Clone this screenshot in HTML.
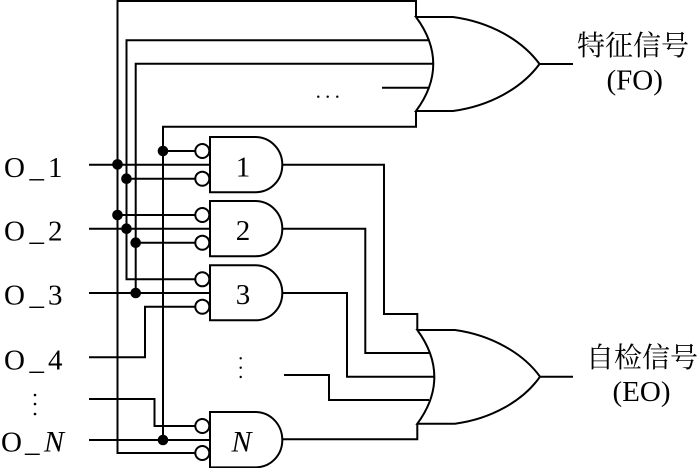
<!DOCTYPE html>
<html><head><meta charset="utf-8"><style>
html,body{margin:0;padding:0;background:#fff}
svg{display:block}
text{font-family:"Liberation Serif","Noto Serif CJK SC",serif;fill:#000}
</style></head><body>
<svg width="700" height="468" viewBox="0 0 700 468" xmlns="http://www.w3.org/2000/svg">
<g fill="none" stroke="#000" stroke-width="2">
<!-- input wires -->
<path d="M89 164.7H210M89 228.7H210M89 293H210M89 440H210"/>
<path d="M89 357.3H145V306.7H195"/>
<path d="M89 399H154.5V426H195"/>
<path d="M117.5 215H195M126.5 178.7H195M135.7 242.7H195M163 151H195"/>
<!-- buses -->
<path d="M195 453H117.5V1H416V17"/>
<path d="M195 279.3H126.5V40.3H428"/>
<path d="M135.7 293V63.7H433"/>
<path d="M163 440V126.7H416V111"/>
<path d="M382 87.7H428"/>
<!-- top OR -->
<path d="M416 17H453C490 22 522 40 539.5 64C522 88 490 106 453 111H416C439 80 439 48 416 17Z"/>
<path d="M539.5 64H573"/>
<!-- AND gates -->
<path d="M210 137H255C271 137 282.3 150 282.3 164.7C282.3 180 271 192.3 255 192.3H210Z" fill="#fff"/>
<path d="M210 201H255C271 201 282.3 214 282.3 228.7C282.3 244 271 256.3 255 256.3H210Z" fill="#fff"/>
<path d="M210 265.3H255C271 265.3 282.3 278 282.3 293C282.3 308 271 320.3 255 320.3H210Z" fill="#fff"/>
<path d="M210 412H255C271 412 282.3 425 282.3 440C282.3 455 271 467.4 255 467.4H210Z" fill="#fff"/>
<!-- bubbles -->
<g fill="#fff">
<circle cx="202.3" cy="151" r="7"/><circle cx="202.3" cy="178.7" r="7"/>
<circle cx="202.3" cy="215" r="7"/><circle cx="202.3" cy="242.7" r="7"/>
<circle cx="202.3" cy="279.3" r="7"/><circle cx="202.3" cy="306.7" r="7"/>
<circle cx="202.3" cy="426" r="7"/><circle cx="202.3" cy="453" r="7"/>
</g>
<!-- outputs -->
<path d="M282 164.7H384V314H417.3V330"/>
<path d="M282 228.7H365.3V353H429"/>
<path d="M282 293H347V376.7H434"/>
<path d="M284 375H329V400H429"/>
<path d="M282 439.3H417.3V423.7"/>
<!-- bottom OR -->
<path d="M417.3 330H455C491 335 523 353 540 376.7C523 401 491 419 455 423.7H417.3C440 393 440 361 417.3 330Z"/>
<path d="M540 376.7H573"/>
</g>
<g fill="#000">
<circle cx="117.5" cy="164.4" r="5.3"/><circle cx="126.5" cy="178.7" r="5.3"/>
<circle cx="117.5" cy="215" r="5.3"/><circle cx="126.5" cy="228.7" r="5.3"/>
<circle cx="135.7" cy="242.7" r="5.3"/><circle cx="135.7" cy="293" r="5.3"/>
<circle cx="163" cy="151" r="5.3"/><circle cx="163" cy="440" r="5.3"/>
<circle cx="240.7" cy="358.3" r="1.2"/><circle cx="240.7" cy="367.7" r="1.2"/><circle cx="240.7" cy="377" r="1.2"/>
<circle cx="35" cy="395" r="1.3"/><circle cx="35" cy="404" r="1.3"/><circle cx="35" cy="414" r="1.3"/>
<circle cx="318.3" cy="96.7" r="1.2"/><circle cx="327.7" cy="96.7" r="1.2"/><circle cx="337.3" cy="96.7" r="1.2"/>
</g>
<g font-size="29">
<text x="243" y="176.7" text-anchor="middle">1</text>
<text x="243" y="240" text-anchor="middle">2</text>
<text x="243" y="304" text-anchor="middle">3</text>
<text x="231.5" y="451.7" font-size="30" font-style="italic">N</text>
<text x="4 29.5 48" y="177">O_1</text>
<text x="4 29.5 48" y="240.5">O_2</text>
<text x="4 29.5 48" y="304.5">O_3</text>
<text x="4 29.5 48" y="369.3">O_4</text>
<text x="1 25" y="451.7">O_</text>
<text x="44" y="451.7" font-size="30" font-style="italic">N</text>
<text x="577" y="55" font-size="28">特征信号</text>
<text x="606.5" y="89.5">(FO)</text>
<text x="586" y="367" font-size="28">自检信号</text>
<text x="612.5" y="401">(EO)</text>
</g>
</svg>
</body></html>
